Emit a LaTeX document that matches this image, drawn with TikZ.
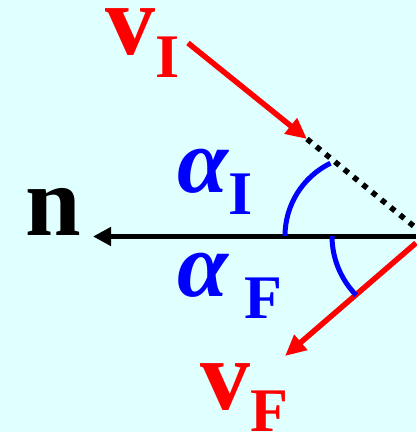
\documentclass[tikz,border=0pt]{standalone}
\usepackage{fontspec}
\setmainfont{Liberation Serif}
\usetikzlibrary{arrows.meta}
\definecolor{bgcyan}{HTML}{E0FFFF}
\newcommand{\bigfont}{\fontsize{100}{100}\selectfont}
\newcommand{\subfont}{\fontsize{62}{62}\selectfont}
\newcommand{\alphafont}{\fontsize{92}{92}\selectfont\bfseries\itshape}

\begin{document}
\begin{tikzpicture}[x=1pt,y=1pt,
    vec/.style={red,line width=5.5pt,-{Triangle[length=21pt,width=19pt]}},
    normal/.style={black,line width=5.5pt,-{Triangle[length=18pt,width=18pt]}},
    angarc/.style={blue,line width=5pt},
    lbl/.style={inner sep=0pt,anchor=base west}]
  \fill[bgcyan] (0,0) rectangle (416,432);
  \useasboundingbox (0,0) rectangle (416,432);
  % points of the picture
  \coordinate (o) at (416,195.5);
  \coordinate (ntip) at (93,195.5);
  \coordinate (vistart) at (188,389);
  \coordinate (vitip) at (307,293);
  \coordinate (dotend) at (416,204);
  \coordinate (vfstart) at (416,189);
  \coordinate (vftip) at (285,76);
  % labels
  \node[lbl] (n) at (25,196) {\bigfont\bfseries n};
  \node[lbl,red] (vi) at (105,377) {\bigfont\bfseries v\raisebox{-23pt}{\subfont I}};
  \node[lbl,red] (vf) at (200,23) {\bigfont\bfseries v\raisebox{-23pt}{\subfont F}};
  \node[lbl,blue] (ai) at (177,239) {\alphafont α\raisebox{-22pt}{\subfont\upshape I}};
  \node[lbl,blue] (af) at (177,135) {\alphafont α\hspace{16pt}\raisebox{-22pt}{\subfont\upshape F}};
  % vectors
  \draw[normal] (o) -- (ntip);
  \draw[vec] (vistart) -- (vitip);
  \draw[black,line width=5.5pt,dash pattern=on 5.5pt off 6.5pt] (vitip) -- (dotend);
  \draw[vec] (vfstart) -- (vftip);
  % angles
  \draw[angarc] (285,196) arc[start angle=180,end angle=116,radius=81pt];
  \draw[angarc] (332,196) arc[start angle=180,end angle=224.5,radius=84.5pt];
\end{tikzpicture}
\end{document}
